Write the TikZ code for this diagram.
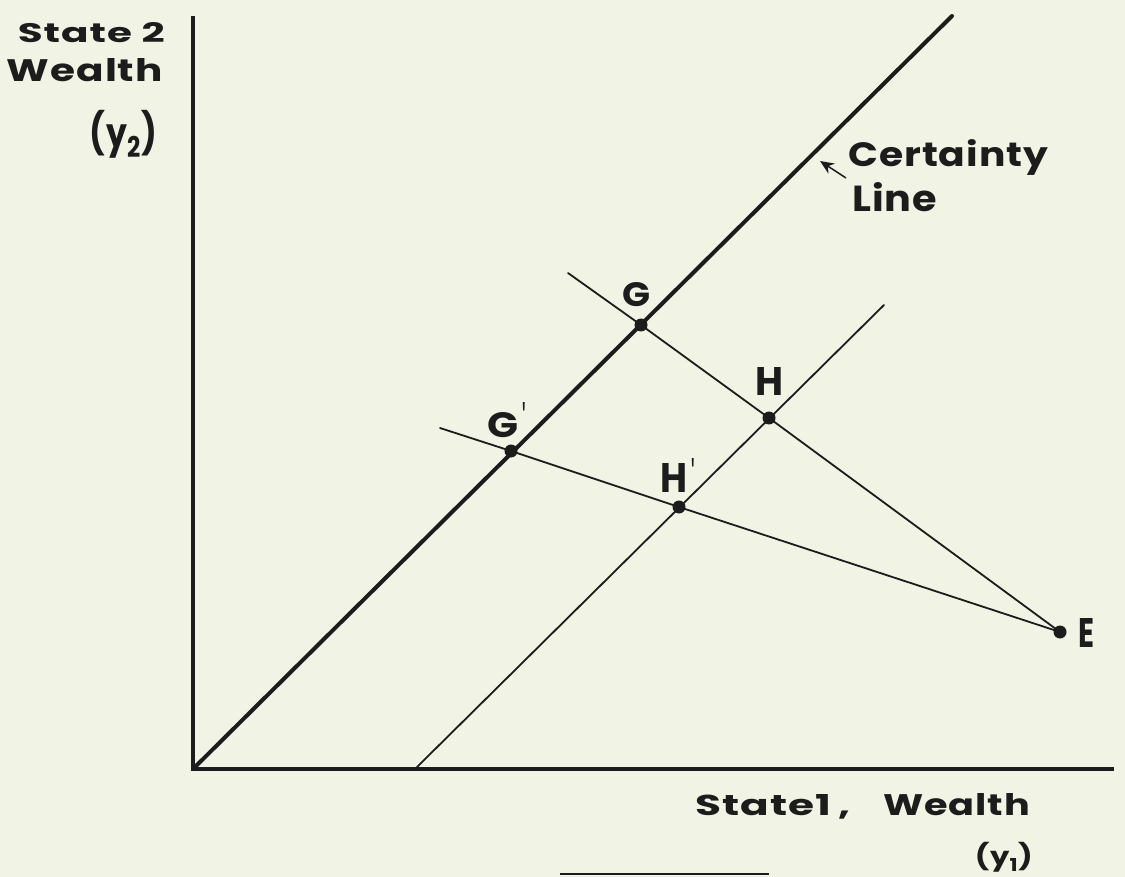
\documentclass[tikz,border=0pt]{standalone}
\usepackage{fontspec}
\setmainfont{Poppins}
\newfontfamily\wideff{Poppins}[LetterSpace=2.5]
\usetikzlibrary{arrows.meta}
\definecolor{bg}{RGB}{241,243,229}
\definecolor{ink}{RGB}{28,28,28}
\newcommand{\fitbox}[3]{\resizebox{#1}{#2}{#3}}
\newcommand{\fitboxt}[3]{\resizebox*{#1}{#2}{#3}}
\newcommand{\primemark}{\resizebox{3.5pt}{34pt}{\mdseries\textquotesingle}}
\begin{document}
\begin{tikzpicture}[x=1pt,y=-1pt,
  axisline/.style={draw=ink,line width=4.5pt},
  certline/.style={draw=ink,line width=4pt,line cap=round},
  thinline/.style={draw=ink,line width=1.8pt,line cap=round},
  dot/.style={circle,fill=ink,inner sep=0pt,minimum size=13pt},
  lbl/.style={font=\wideff\bfseries\fontsize{30}{34}\selectfont,text=ink,inner sep=0pt},
  ]
\fill[bg] (0,0) rectangle (1125,877);
\useasboundingbox (0,0) rectangle (1125,877);
% geometry
\coordinate (Ytop) at (193,16);
\coordinate (O) at (193,769);
\coordinate (Xend) at (1114,769);
\coordinate (Ctop) at (952,16);
\coordinate (P0) at (415,769);
\coordinate (P1) at (884,305);
\coordinate (A1) at (568,273);
\coordinate (A2) at (440,428);
\coordinate (R0) at (560,874);
\coordinate (R1) at (769,874);
\node[dot] (G) at (641,325) {};
\node[dot] (H) at (769,418) {};
\node[dot] (Gp) at (511,451) {};
\node[dot] (Hp) at (679,507) {};
\node[dot] (E) at (1060,632) {};
% lines
\draw[axisline] (Ytop) -- (O) -- (Xend);
\draw[certline] (O) -- (Ctop);
\draw[thinline] (P0) -- (P1);
\draw[thinline] (A1) -- (G.center) -- (H.center) -- (E.center);
\draw[thinline] (A2) -- (Gp.center) -- (Hp.center) -- (E.center);
\draw[ink,line width=2.5pt] (R0) -- (R1);
% certainty label and arrow
\node[lbl,anchor=base west] (cert) at (848,167) {\fitbox{200pt}{27pt}{Certainty}};
\node[lbl,anchor=base west] (line) at (852,212) {\fitbox{85pt}{29pt}{Line}};
\coordinate (arrT) at (846,178);
\coordinate (arrH) at (820,161);
\draw[ink,line width=1.5pt,-{Stealth[length=14pt,width=12pt]}] (arrT) -- (arrH);
% point labels
\node[lbl,anchor=base west] (lG) at (622,307) {\fitbox{28pt}{24pt}{G}};
\node[lbl,anchor=base west] (lH) at (755,395) {\fitbox{28pt}{28pt}{H}};
\node[lbl,anchor=base west] (lGp) at (487,437) {\fitbox{31pt}{25pt}{G}\kern4pt\primemark};
\node[lbl,anchor=base west] (lHp) at (660,492) {\fitbox{27pt}{29pt}{H}\kern4pt\primemark};
\node[lbl,anchor=base west] (lE) at (1078,647) {\fitbox{16pt}{29pt}{E}};
% axis labels
\node[lbl,anchor=base east] (s2) at (165,43) {\fitbox{147pt}{20pt}{State 2}};
\node[lbl,anchor=base east] (w2) at (163,82) {\fitbox{156pt}{23pt}{Wealth}};
\node[lbl,anchor=north east] (y2) at (157,110) {\fitboxt{67pt}{48pt}{(y\textsubscript{2})}};
\node[lbl,anchor=base west] (s1) at (695,815) {\fitbox{155pt}{21pt}{State1\kern5pt,}};
\node[lbl,anchor=base west] (w1) at (883,815) {\fitbox{147pt}{22pt}{Wealth}};
\node[lbl,anchor=north east] (y1) at (1033,842) {\fitboxt{58pt}{30pt}{(y\textsubscript{1})}};
\end{tikzpicture}
\end{document}
